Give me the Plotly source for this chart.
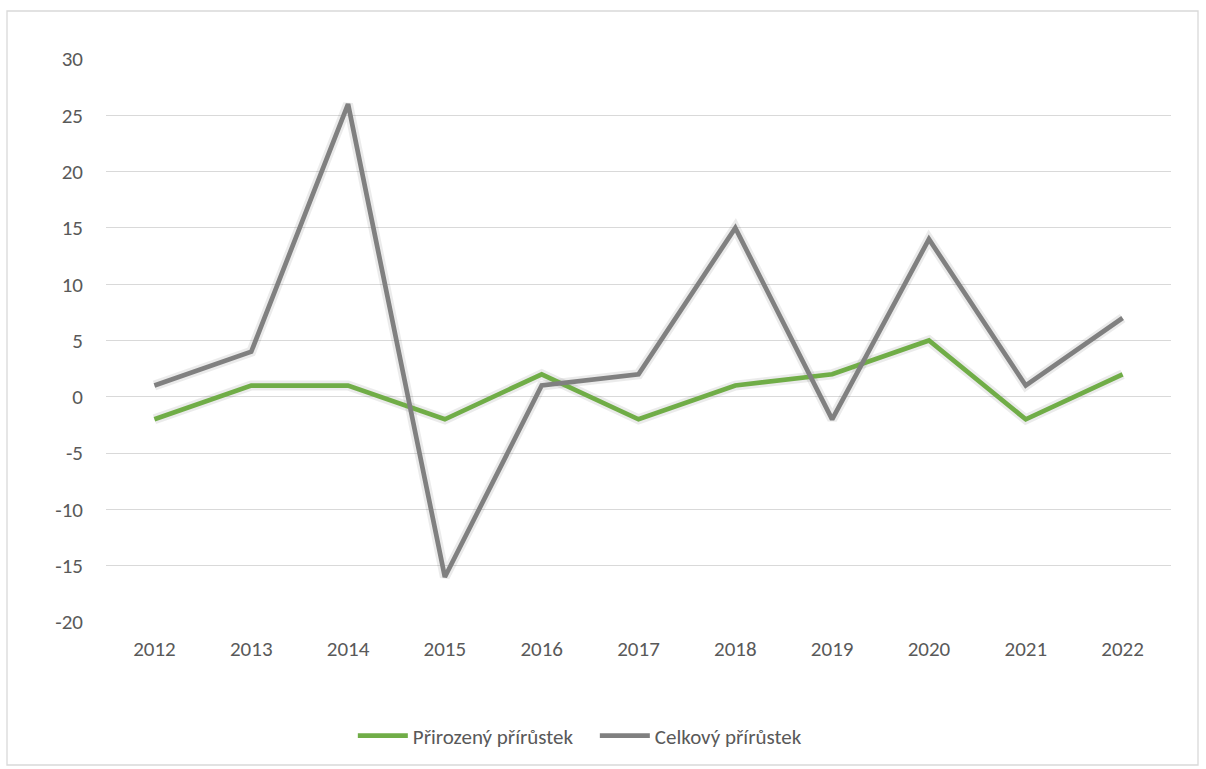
import plotly.graph_objects as go

years = ["2012", "2013", "2014", "2015", "2016", "2017", "2018", "2019", "2020", "2021", "2022"]
prirozeny = [-2, 1, 1, -2, 2, -2, 1, 2, 5, -2, 2]
celkovy = [1, 4, 26, -16, 1, 2, 15, -2, 14, 1, 7]
names = ["Přirozený přírůstek", "Celkový přírůstek"]
colors = ["#70AD47", "#808080"]
ytick_vals = [-20, -15, -10, -5, 0, 5, 10, 15, 20, 25, 30]
ytick_text = ["-20", "-15", "-10", "-5", "0", "5", "10", "15", "20", "25", "30"]

W, H = 1206, 769
L, R, T, B = 106, 35, 59, 147
pw, ph = W - L - R, H - T - B

fig = go.Figure()
for vals, col in [(prirozeny, colors[0]), (celkovy, colors[1])]:
    fig.add_trace(go.Scatter(x=years, y=vals, mode="lines", showlegend=False, hoverinfo="skip",
                             line=dict(color="rgba(0,0,0,0.08)", width=10)))
for vals, nm, col in [(prirozeny, names[0], colors[0]), (celkovy, names[1], colors[1])]:
    fig.add_trace(go.Scatter(x=years, y=vals, mode="lines", name=nm,
                             line=dict(color=col, width=4.7)))

font = "Carlito, Calibri, 'Open Sans', sans-serif"
fig.update_layout(
    width=W, height=H,
    margin=dict(l=L, r=R, t=T, b=B),
    paper_bgcolor="white", plot_bgcolor="white",
    font=dict(family=font, size=21, color="#595959"),
    xaxis=dict(type="category", showgrid=False, zeroline=False, showline=False,
               ticks="", ticklabelstandoff=12, range=[-0.5, 10.5]),
    yaxis=dict(range=[-20, 30], tickvals=ytick_vals, ticktext=ytick_text,
               showgrid=True, gridcolor="#D9D9D9",
               gridwidth=1.3, zeroline=True, zerolinecolor="#D9D9D9", zerolinewidth=1.3,
               showline=False, ticks="", ticklabelstandoff=22),
    legend=dict(orientation="h", x=0.459, xanchor="center", y=(T + ph - 736) / ph,
                yanchor="middle", font=dict(size=21, color="#595959"),
                itemwidth=50, entrywidth=177, entrywidthmode="pixels",
                tracegroupgap=0, bgcolor="rgba(0,0,0,0)"),
    shapes=[dict(type="rect", xref="paper", yref="paper",
                 x0=(7 - L) / pw, x1=(1198 - L) / pw,
                 y0=(T + ph - 765) / ph, y1=(T + ph - 11) / ph,
                 line=dict(color="#D9D9D9", width=1.3), fillcolor="rgba(0,0,0,0)", layer="below")],
)
fig.write_html("out.html", config={"displayModeBar": False},
               post_script="document.body.style.margin='0';")
